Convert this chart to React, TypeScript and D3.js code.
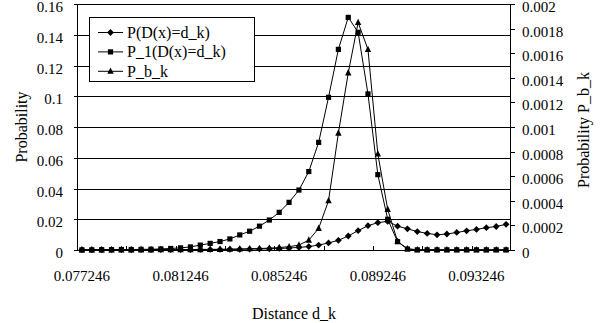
import React from "react";
import * as d3 from "d3";

const categories = [
  "0.077246","0.077646","0.078046","0.078446","0.078846","0.079246","0.079646","0.080046","0.080446","0.080846",
  "0.081246","0.081646","0.082046","0.082446","0.082846","0.083246","0.083646","0.084046","0.084446","0.084846",
  "0.085246","0.085646","0.086046","0.086446","0.086846","0.087246","0.087646","0.088046","0.088446","0.088846",
  "0.089246","0.089646","0.090046","0.090446","0.090846","0.091246","0.091646","0.092046","0.092446","0.092846",
  "0.093246","0.093646","0.094046","0.094446",
];

const seriesP = [
  0.0002,0.0002,0.0002,0.0002,0.0002,0.0002,0.0003,0.0003,0.0003,0.0003,
  0.0003,0.0003,0.0004,0.0004,0.0004,0.0005,0.0005,0.0006,0.0007,0.0008,
  0.001,0.0013,0.0017,0.0022,0.0032,0.0046,0.0063,0.0091,0.0126,0.0158,
  0.0178,0.0186,0.0155,0.0138,0.012,0.0108,0.0099,0.0104,0.0114,0.0125,
  0.0134,0.0145,0.0153,0.0167,
];

const seriesP1 = [
  0.0001,0.0001,0.0002,0.0002,0.0003,0.0003,0.0004,0.0005,0.0007,0.001,
  0.0014,0.002,0.0032,0.0043,0.0055,0.0072,0.0098,0.0122,0.0155,0.0195,
  0.0245,0.031,0.039,0.051,0.07,0.0993,0.1305,0.1513,0.1416,0.1015,
  0.049,0.02,0.0054,0.0006,0.0001,0.0001,0.0001,0.0001,0.0001,0.0001,
  0.0001,0.0001,0.0001,0.0001,
];

const seriesPbk = [
  0,0,0,0,0.000001,0.000001,0.000001,0.000001,0.000002,0.000002,
  0.000002,0.000003,0.000003,0.000004,0.000005,0.000006,0.000008,0.00001,0.000012,0.000015,
  0.00002,0.000027,0.00004,0.00008,0.000176,0.0004,0.00095,0.00144,0.00185,0.00163,
  0.00078,0.00033,0.00007,0.00001,0.000002,0.000002,0.000002,0.000002,0.000002,0.000002,
  0.000002,0.000002,0.000002,0.000002,
];

const leftTicks = [0, 0.02, 0.04, 0.06, 0.08, 0.1, 0.12, 0.14, 0.16];
const leftTickLabels = ["0", "0.02", "0.04", "0.06", "0.08", "0.1", "0.12", "0.14", "0.16"];
const rightTicks = [0, 0.0002, 0.0004, 0.0006, 0.0008, 0.001, 0.0012, 0.0014, 0.0016, 0.0018, 0.002];
const rightTickLabels = ["0", "0.0002", "0.0004", "0.0006", "0.0008", "0.001", "0.0012", "0.0014", "0.0016", "0.0018", "0.002"];
const legendLabels = ["P(D(x)=d_k)", "P_1(D(x)=d_k)", "P_b_k"];

const W = 610, H = 323;
const L = 77, R = 511, T = 4, B = 250;
const ts = { fontFamily: '"Liberation Serif"' };

function Marker({ kind, x, y }: { kind: string; x: number; y: number }) {
  if (kind === "diamond") {
    const s = 3.4;
    return <path d={`M${x},${y - s}L${x + s},${y}L${x},${y + s}L${x - s},${y}Z`} fill="#000" />;
  }
  if (kind === "square") {
    const s = 2.6;
    return <rect x={x - s} y={y - s} width={2 * s} height={2 * s} fill="#000" />;
  }
  const s = 3.2;
  return <path d={`M${x},${y - s - 0.6}L${x + s},${y + s * 0.8}L${x - s},${y + s * 0.8}Z`} fill="#000" />;
}

export default function App() {
  const idx = categories.map((_, i) => i);
  const x = d3.scaleBand<number>().domain(idx).range([L, R]).padding(0);
  const bw = x.bandwidth();
  const cx = (i: number) => (x(i) as number) + bw / 2;
  const yL = d3.scaleLinear().domain([0, 0.16]).range([B, T]);
  const yR = d3.scaleLinear().domain([0, 0.002]).range([B, T]);

  const lineL = d3.line<number>().x((_, i) => cx(i)).y((d) => yL(d));
  const lineR = d3.line<number>().x((_, i) => cx(i)).y((d) => yR(d));

  const series = [
    { data: seriesP, line: lineL, y: yL, kind: "diamond" },
    { data: seriesP1, line: lineL, y: yL, kind: "square" },
    { data: seriesPbk, line: lineR, y: yR, kind: "triangle" },
  ];

  const xTickBounds = idx.filter((i) => i % 5 === 0 && i > 0);
  const xLabelIdx = idx.filter((i) => i % 10 === 0);

  return (
    <svg width={W} height={H} style={{ position: "absolute", left: 0, top: 0, background: "#fff" }}>
      <rect x={0} y={0} width={W} height={H} fill="#fff" />
      {leftTicks.map((t) => (
        <line key={"g" + t} x1={L} x2={R} y1={Math.round(yL(t)) + 0.5} y2={Math.round(yL(t)) + 0.5} stroke="#000" strokeWidth={1} />
      ))}
      <line x1={L + 0.5} x2={L + 0.5} y1={T} y2={B + 1} stroke="#000" />
      {leftTicks.map((t, k) => (
        <g key={"lt" + t}>
          <line x1={L - 3} x2={L} y1={Math.round(yL(t)) + 0.5} y2={Math.round(yL(t)) + 0.5} stroke="#000" />
          <text x={63} y={yL(t) + 8} textAnchor="end" fontSize={15} style={ts}>{leftTickLabels[k]}</text>
        </g>
      ))}
      <line x1={R - 0.5} x2={R - 0.5} y1={T} y2={B + 1} stroke="#000" />
      {rightTicks.map((t, k) => (
        <g key={"rt" + t}>
          <line x1={R} x2={R + 4} y1={Math.round(yR(t)) + 0.5} y2={Math.round(yR(t)) + 0.5} stroke="#000" />
          <text x={522} y={yR(t) + 8} textAnchor="start" fontSize={15} style={ts}>{rightTickLabels[k]}</text>
        </g>
      ))}
      <line x1={L} x2={R} y1={B + 0.5} y2={B + 0.5} stroke="#000" />
      {xTickBounds.map((i) => (
        <line key={"xt" + i} x1={Math.round(x(i) as number) + 0.5} x2={Math.round(x(i) as number) + 0.5} y1={B - 4} y2={B} stroke="#000" />
      ))}
      {xLabelIdx.map((i) => (
        <text key={"xl" + i} x={cx(i)} y={281} textAnchor="middle" fontSize={15} style={ts}>{categories[i]}</text>
      ))}
      <text x={294} y={319} textAnchor="middle" fontSize={16} style={ts}>Distance d_k</text>
      <text transform="translate(27,127) rotate(-90)" textAnchor="middle" fontSize={16} style={ts}>Probability</text>
      <text transform="translate(589,130) rotate(-90)" textAnchor="middle" fontSize={16} style={ts}>Probability P_b_k</text>
      {series.map((s, si) => (
        <g key={"s" + si}>
          <path d={s.line(s.data) || ""} fill="none" stroke="#000" strokeWidth={1} />
          {s.data.map((v, i) => (
            <Marker key={i} kind={s.kind} x={cx(i)} y={s.y(v)} />
          ))}
        </g>
      ))}
      <rect x={89.5} y={17.5} width={165} height={64} fill="#fff" stroke="#000" />
      {legendLabels.map((lab, k) => {
        const ry = 32.5 + k * 19.4;
        return (
          <g key={"lg" + k}>
            <line x1={98} x2={123} y1={ry} y2={ry} stroke="#000" />
            <Marker kind={series[k].kind} x={110.5} y={ry} />
            <text x={127} y={ry + 5.5} fontSize={16} style={ts}>{lab}</text>
          </g>
        );
      })}
    </svg>
  );
}
